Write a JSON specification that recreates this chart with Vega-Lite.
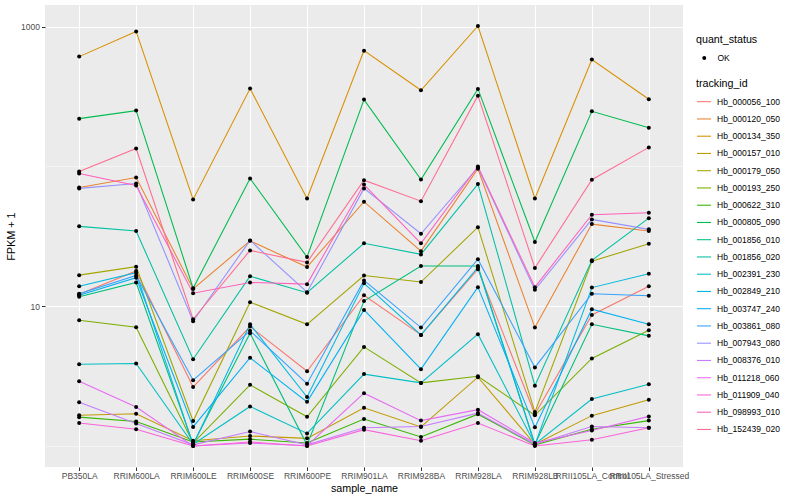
{
"$schema": "https://vega.github.io/schema/vega-lite/v6.json",
"autosize": {"type": "none"},
"width": 638, "height": 462,
"padding": {"left": 45, "top": 5, "right": 117, "bottom": 33},
"background": "white",
"config": {
 "view": {"fill": "#EBEBEB", "stroke": null},
 "font": "Liberation Sans",
 "axis": {"domain": false, "tickColor": "#333333", "labelColor": "#4D4D4D", "labelFontSize": 8.5, "titleFontSize": 10.7, "titleFontWeight": "normal", "titleColor": "black", "gridColor": "white", "tickSize": 3.5},
 "legend": {"titleFontSize": 10.7, "titleFontWeight": "normal", "titleColor": "black", "labelFontSize": 8.5, "labelColor": "black"}
},
"data": {"values": [
{"sample_name":"PB350LA","tracking_id":"Hb_000056_100","fpkm":12.2},{"sample_name":"RRIM600LA","tracking_id":"Hb_000056_100","fpkm":17.9},{"sample_name":"RRIM600LE","tracking_id":"Hb_000056_100","fpkm":2.64},{"sample_name":"RRIM600SE","tracking_id":"Hb_000056_100","fpkm":7.16},{"sample_name":"RRIM600PE","tracking_id":"Hb_000056_100","fpkm":3.43},{"sample_name":"RRIM901LA","tracking_id":"Hb_000056_100","fpkm":12.0},{"sample_name":"RRIM928BA","tracking_id":"Hb_000056_100","fpkm":6.24},{"sample_name":"RRIM928LA","tracking_id":"Hb_000056_100","fpkm":18.4},{"sample_name":"RRIM928LB","tracking_id":"Hb_000056_100","fpkm":1.69},{"sample_name":"RRII105LA_Control","tracking_id":"Hb_000056_100","fpkm":8.67},{"sample_name":"RRII105LA_Stressed","tracking_id":"Hb_000056_100","fpkm":13.9},
{"sample_name":"PB350LA","tracking_id":"Hb_000120_050","fpkm":70.8},{"sample_name":"RRIM600LA","tracking_id":"Hb_000120_050","fpkm":83.4},{"sample_name":"RRIM600LE","tracking_id":"Hb_000120_050","fpkm":13.3},{"sample_name":"RRIM600SE","tracking_id":"Hb_000120_050","fpkm":29.4},{"sample_name":"RRIM600PE","tracking_id":"Hb_000120_050","fpkm":19.1},{"sample_name":"RRIM901LA","tracking_id":"Hb_000120_050","fpkm":56.0},{"sample_name":"RRIM928BA","tracking_id":"Hb_000120_050","fpkm":24.8},{"sample_name":"RRIM928LA","tracking_id":"Hb_000120_050","fpkm":96.3},{"sample_name":"RRIM928LB","tracking_id":"Hb_000120_050","fpkm":7.04},{"sample_name":"RRII105LA_Control","tracking_id":"Hb_000120_050","fpkm":38.7},{"sample_name":"RRII105LA_Stressed","tracking_id":"Hb_000120_050","fpkm":34.5},
{"sample_name":"PB350LA","tracking_id":"Hb_000134_350","fpkm":611},{"sample_name":"RRIM600LA","tracking_id":"Hb_000134_350","fpkm":925},{"sample_name":"RRIM600LE","tracking_id":"Hb_000134_350","fpkm":58.1},{"sample_name":"RRIM600SE","tracking_id":"Hb_000134_350","fpkm":361},{"sample_name":"RRIM600PE","tracking_id":"Hb_000134_350","fpkm":59.0},{"sample_name":"RRIM901LA","tracking_id":"Hb_000134_350","fpkm":674},{"sample_name":"RRIM928BA","tracking_id":"Hb_000134_350","fpkm":351},{"sample_name":"RRIM928LA","tracking_id":"Hb_000134_350","fpkm":1012},{"sample_name":"RRIM928LB","tracking_id":"Hb_000134_350","fpkm":59.0},{"sample_name":"RRII105LA_Control","tracking_id":"Hb_000134_350","fpkm":583},{"sample_name":"RRII105LA_Stressed","tracking_id":"Hb_000134_350","fpkm":303},
{"sample_name":"PB350LA","tracking_id":"Hb_000157_010","fpkm":1.66},{"sample_name":"RRIM600LA","tracking_id":"Hb_000157_010","fpkm":1.70},{"sample_name":"RRIM600LE","tracking_id":"Hb_000157_010","fpkm":1.09},{"sample_name":"RRIM600SE","tracking_id":"Hb_000157_010","fpkm":1.18},{"sample_name":"RRIM600PE","tracking_id":"Hb_000157_010","fpkm":1.135},{"sample_name":"RRIM901LA","tracking_id":"Hb_000157_010","fpkm":1.88},{"sample_name":"RRIM928BA","tracking_id":"Hb_000157_010","fpkm":1.37},{"sample_name":"RRIM928LA","tracking_id":"Hb_000157_010","fpkm":3.11},{"sample_name":"RRIM928LB","tracking_id":"Hb_000157_010","fpkm":1.03},{"sample_name":"RRII105LA_Control","tracking_id":"Hb_000157_010","fpkm":1.65},{"sample_name":"RRII105LA_Stressed","tracking_id":"Hb_000157_010","fpkm":2.14},
{"sample_name":"PB350LA","tracking_id":"Hb_000179_050","fpkm":16.7},{"sample_name":"RRIM600LA","tracking_id":"Hb_000179_050","fpkm":19.2},{"sample_name":"RRIM600LE","tracking_id":"Hb_000179_050","fpkm":1.51},{"sample_name":"RRIM600SE","tracking_id":"Hb_000179_050","fpkm":10.7},{"sample_name":"RRIM600PE","tracking_id":"Hb_000179_050","fpkm":7.43},{"sample_name":"RRIM901LA","tracking_id":"Hb_000179_050","fpkm":16.6},{"sample_name":"RRIM928BA","tracking_id":"Hb_000179_050","fpkm":14.9},{"sample_name":"RRIM928LA","tracking_id":"Hb_000179_050","fpkm":36.8},{"sample_name":"RRIM928LB","tracking_id":"Hb_000179_050","fpkm":1.75},{"sample_name":"RRII105LA_Control","tracking_id":"Hb_000179_050","fpkm":21.0},{"sample_name":"RRII105LA_Stressed","tracking_id":"Hb_000179_050","fpkm":28.0},
{"sample_name":"PB350LA","tracking_id":"Hb_000193_250","fpkm":7.94},{"sample_name":"RRIM600LA","tracking_id":"Hb_000193_250","fpkm":7.08},{"sample_name":"RRIM600LE","tracking_id":"Hb_000193_250","fpkm":1.05},{"sample_name":"RRIM600SE","tracking_id":"Hb_000193_250","fpkm":2.74},{"sample_name":"RRIM600PE","tracking_id":"Hb_000193_250","fpkm":1.62},{"sample_name":"RRIM901LA","tracking_id":"Hb_000193_250","fpkm":5.12},{"sample_name":"RRIM928BA","tracking_id":"Hb_000193_250","fpkm":2.83},{"sample_name":"RRIM928LA","tracking_id":"Hb_000193_250","fpkm":3.16},{"sample_name":"RRIM928LB","tracking_id":"Hb_000193_250","fpkm":1.66},{"sample_name":"RRII105LA_Control","tracking_id":"Hb_000193_250","fpkm":4.23},{"sample_name":"RRII105LA_Stressed","tracking_id":"Hb_000193_250","fpkm":6.74},
{"sample_name":"PB350LA","tracking_id":"Hb_000622_310","fpkm":1.61},{"sample_name":"RRIM600LA","tracking_id":"Hb_000622_310","fpkm":1.50},{"sample_name":"RRIM600LE","tracking_id":"Hb_000622_310","fpkm":1.07},{"sample_name":"RRIM600SE","tracking_id":"Hb_000622_310","fpkm":1.12},{"sample_name":"RRIM600PE","tracking_id":"Hb_000622_310","fpkm":1.05},{"sample_name":"RRIM901LA","tracking_id":"Hb_000622_310","fpkm":1.56},{"sample_name":"RRIM928BA","tracking_id":"Hb_000622_310","fpkm":1.16},{"sample_name":"RRIM928LA","tracking_id":"Hb_000622_310","fpkm":1.69},{"sample_name":"RRIM928LB","tracking_id":"Hb_000622_310","fpkm":1.02},{"sample_name":"RRII105LA_Control","tracking_id":"Hb_000622_310","fpkm":1.32},{"sample_name":"RRII105LA_Stressed","tracking_id":"Hb_000622_310","fpkm":1.52},
{"sample_name":"PB350LA","tracking_id":"Hb_000805_090","fpkm":220},{"sample_name":"RRIM600LA","tracking_id":"Hb_000805_090","fpkm":251},{"sample_name":"RRIM600LE","tracking_id":"Hb_000805_090","fpkm":13.45},{"sample_name":"RRIM600SE","tracking_id":"Hb_000805_090","fpkm":82.0},{"sample_name":"RRIM600PE","tracking_id":"Hb_000805_090","fpkm":22.5},{"sample_name":"RRIM901LA","tracking_id":"Hb_000805_090","fpkm":301},{"sample_name":"RRIM928BA","tracking_id":"Hb_000805_090","fpkm":80.7},{"sample_name":"RRIM928LA","tracking_id":"Hb_000805_090","fpkm":359},{"sample_name":"RRIM928LB","tracking_id":"Hb_000805_090","fpkm":28.8},{"sample_name":"RRII105LA_Control","tracking_id":"Hb_000805_090","fpkm":248},{"sample_name":"RRII105LA_Stressed","tracking_id":"Hb_000805_090","fpkm":189},
{"sample_name":"PB350LA","tracking_id":"Hb_001856_010","fpkm":11.7},{"sample_name":"RRIM600LA","tracking_id":"Hb_001856_010","fpkm":14.8},{"sample_name":"RRIM600LE","tracking_id":"Hb_001856_010","fpkm":1.03},{"sample_name":"RRIM600SE","tracking_id":"Hb_001856_010","fpkm":6.41},{"sample_name":"RRIM600PE","tracking_id":"Hb_001856_010","fpkm":1.02},{"sample_name":"RRIM901LA","tracking_id":"Hb_001856_010","fpkm":10.9},{"sample_name":"RRIM928BA","tracking_id":"Hb_001856_010","fpkm":19.4},{"sample_name":"RRIM928LA","tracking_id":"Hb_001856_010","fpkm":19.4},{"sample_name":"RRIM928LB","tracking_id":"Hb_001856_010","fpkm":1.03},{"sample_name":"RRII105LA_Control","tracking_id":"Hb_001856_010","fpkm":7.43},{"sample_name":"RRII105LA_Stressed","tracking_id":"Hb_001856_010","fpkm":6.14},
{"sample_name":"PB350LA","tracking_id":"Hb_001856_020","fpkm":37.3},{"sample_name":"RRIM600LA","tracking_id":"Hb_001856_020","fpkm":34.5},{"sample_name":"RRIM600LE","tracking_id":"Hb_001856_020","fpkm":4.18},{"sample_name":"RRIM600SE","tracking_id":"Hb_001856_020","fpkm":16.4},{"sample_name":"RRIM600PE","tracking_id":"Hb_001856_020","fpkm":12.5},{"sample_name":"RRIM901LA","tracking_id":"Hb_001856_020","fpkm":28.2},{"sample_name":"RRIM928BA","tracking_id":"Hb_001856_020","fpkm":23.5},{"sample_name":"RRIM928LA","tracking_id":"Hb_001856_020","fpkm":74.8},{"sample_name":"RRIM928LB","tracking_id":"Hb_001856_020","fpkm":2.70},{"sample_name":"RRII105LA_Control","tracking_id":"Hb_001856_020","fpkm":21.3},{"sample_name":"RRII105LA_Stressed","tracking_id":"Hb_001856_020","fpkm":42.7},
{"sample_name":"PB350LA","tracking_id":"Hb_002391_230","fpkm":3.85},{"sample_name":"RRIM600LA","tracking_id":"Hb_002391_230","fpkm":3.90},{"sample_name":"RRIM600LE","tracking_id":"Hb_002391_230","fpkm":1.03},{"sample_name":"RRIM600SE","tracking_id":"Hb_002391_230","fpkm":1.92},{"sample_name":"RRIM600PE","tracking_id":"Hb_002391_230","fpkm":1.23},{"sample_name":"RRIM901LA","tracking_id":"Hb_002391_230","fpkm":3.27},{"sample_name":"RRIM928BA","tracking_id":"Hb_002391_230","fpkm":2.83},{"sample_name":"RRIM928LA","tracking_id":"Hb_002391_230","fpkm":6.31},{"sample_name":"RRIM928LB","tracking_id":"Hb_002391_230","fpkm":1.03},{"sample_name":"RRII105LA_Control","tracking_id":"Hb_002391_230","fpkm":2.17},{"sample_name":"RRII105LA_Stressed","tracking_id":"Hb_002391_230","fpkm":2.77},
{"sample_name":"PB350LA","tracking_id":"Hb_002849_210","fpkm":13.9},{"sample_name":"RRIM600LA","tracking_id":"Hb_002849_210","fpkm":17.4},{"sample_name":"RRIM600LE","tracking_id":"Hb_002849_210","fpkm":1.02},{"sample_name":"RRIM600SE","tracking_id":"Hb_002849_210","fpkm":7.43},{"sample_name":"RRIM600PE","tracking_id":"Hb_002849_210","fpkm":2.24},{"sample_name":"RRIM901LA","tracking_id":"Hb_002849_210","fpkm":14.6},{"sample_name":"RRIM928BA","tracking_id":"Hb_002849_210","fpkm":6.24},{"sample_name":"RRIM928LA","tracking_id":"Hb_002849_210","fpkm":19.0},{"sample_name":"RRIM928LB","tracking_id":"Hb_002849_210","fpkm":1.02},{"sample_name":"RRII105LA_Control","tracking_id":"Hb_002849_210","fpkm":13.6},{"sample_name":"RRII105LA_Stressed","tracking_id":"Hb_002849_210","fpkm":17.1},
{"sample_name":"PB350LA","tracking_id":"Hb_003747_240","fpkm":11.98},{"sample_name":"RRIM600LA","tracking_id":"Hb_003747_240","fpkm":16.0},{"sample_name":"RRIM600LE","tracking_id":"Hb_003747_240","fpkm":1.37},{"sample_name":"RRIM600SE","tracking_id":"Hb_003747_240","fpkm":4.28},{"sample_name":"RRIM600PE","tracking_id":"Hb_003747_240","fpkm":2.07},{"sample_name":"RRIM901LA","tracking_id":"Hb_003747_240","fpkm":9.41},{"sample_name":"RRIM928BA","tracking_id":"Hb_003747_240","fpkm":3.55},{"sample_name":"RRIM928LA","tracking_id":"Hb_003747_240","fpkm":13.7},{"sample_name":"RRIM928LB","tracking_id":"Hb_003747_240","fpkm":1.36},{"sample_name":"RRII105LA_Control","tracking_id":"Hb_003747_240","fpkm":9.52},{"sample_name":"RRII105LA_Stressed","tracking_id":"Hb_003747_240","fpkm":7.43},
{"sample_name":"PB350LA","tracking_id":"Hb_003861_080","fpkm":12.3},{"sample_name":"RRIM600LA","tracking_id":"Hb_003861_080","fpkm":16.6},{"sample_name":"RRIM600LE","tracking_id":"Hb_003861_080","fpkm":2.96},{"sample_name":"RRIM600SE","tracking_id":"Hb_003861_080","fpkm":6.67},{"sample_name":"RRIM600PE","tracking_id":"Hb_003861_080","fpkm":2.79},{"sample_name":"RRIM901LA","tracking_id":"Hb_003861_080","fpkm":15.3},{"sample_name":"RRIM928BA","tracking_id":"Hb_003861_080","fpkm":7.04},{"sample_name":"RRIM928LA","tracking_id":"Hb_003861_080","fpkm":21.7},{"sample_name":"RRIM928LB","tracking_id":"Hb_003861_080","fpkm":3.65},{"sample_name":"RRII105LA_Control","tracking_id":"Hb_003861_080","fpkm":12.3},{"sample_name":"RRII105LA_Stressed","tracking_id":"Hb_003861_080","fpkm":11.9},
{"sample_name":"PB350LA","tracking_id":"Hb_007943_080","fpkm":69.7},{"sample_name":"RRIM600LA","tracking_id":"Hb_007943_080","fpkm":75.6},{"sample_name":"RRIM600LE","tracking_id":"Hb_007943_080","fpkm":7.82},{"sample_name":"RRIM600SE","tracking_id":"Hb_007943_080","fpkm":29.6},{"sample_name":"RRIM600PE","tracking_id":"Hb_007943_080","fpkm":12.6},{"sample_name":"RRIM901LA","tracking_id":"Hb_007943_080","fpkm":69.7},{"sample_name":"RRIM928BA","tracking_id":"Hb_007943_080","fpkm":33.0},{"sample_name":"RRIM928LA","tracking_id":"Hb_007943_080","fpkm":98.4},{"sample_name":"RRIM928LB","tracking_id":"Hb_007943_080","fpkm":13.1},{"sample_name":"RRII105LA_Control","tracking_id":"Hb_007943_080","fpkm":41.8},{"sample_name":"RRII105LA_Stressed","tracking_id":"Hb_007943_080","fpkm":35.5},
{"sample_name":"PB350LA","tracking_id":"Hb_008376_010","fpkm":2.06},{"sample_name":"RRIM600LA","tracking_id":"Hb_008376_010","fpkm":1.45},{"sample_name":"RRIM600LE","tracking_id":"Hb_008376_010","fpkm":1.02},{"sample_name":"RRIM600SE","tracking_id":"Hb_008376_010","fpkm":1.27},{"sample_name":"RRIM600PE","tracking_id":"Hb_008376_010","fpkm":1.02},{"sample_name":"RRIM901LA","tracking_id":"Hb_008376_010","fpkm":1.35},{"sample_name":"RRIM928BA","tracking_id":"Hb_008376_010","fpkm":1.38},{"sample_name":"RRIM928LA","tracking_id":"Hb_008376_010","fpkm":1.72},{"sample_name":"RRIM928LB","tracking_id":"Hb_008376_010","fpkm":1.03},{"sample_name":"RRII105LA_Control","tracking_id":"Hb_008376_010","fpkm":1.38},{"sample_name":"RRII105LA_Stressed","tracking_id":"Hb_008376_010","fpkm":1.35},
{"sample_name":"PB350LA","tracking_id":"Hb_011218_060","fpkm":2.91},{"sample_name":"RRIM600LA","tracking_id":"Hb_011218_060","fpkm":1.90},{"sample_name":"RRIM600LE","tracking_id":"Hb_011218_060","fpkm":1.0},{"sample_name":"RRIM600SE","tracking_id":"Hb_011218_060","fpkm":1.05},{"sample_name":"RRIM600PE","tracking_id":"Hb_011218_060","fpkm":1.005},{"sample_name":"RRIM901LA","tracking_id":"Hb_011218_060","fpkm":2.39},{"sample_name":"RRIM928BA","tracking_id":"Hb_011218_060","fpkm":1.52},{"sample_name":"RRIM928LA","tracking_id":"Hb_011218_060","fpkm":1.82},{"sample_name":"RRIM928LB","tracking_id":"Hb_011218_060","fpkm":1.05},{"sample_name":"RRII105LA_Control","tracking_id":"Hb_011218_060","fpkm":1.29},{"sample_name":"RRII105LA_Stressed","tracking_id":"Hb_011218_060","fpkm":1.63},
{"sample_name":"PB350LA","tracking_id":"Hb_011909_040","fpkm":1.46},{"sample_name":"RRIM600LA","tracking_id":"Hb_011909_040","fpkm":1.32},{"sample_name":"RRIM600LE","tracking_id":"Hb_011909_040","fpkm":1.0},{"sample_name":"RRIM600SE","tracking_id":"Hb_011909_040","fpkm":1.07},{"sample_name":"RRIM600PE","tracking_id":"Hb_011909_040","fpkm":1.0},{"sample_name":"RRIM901LA","tracking_id":"Hb_011909_040","fpkm":1.31},{"sample_name":"RRIM928BA","tracking_id":"Hb_011909_040","fpkm":1.09},{"sample_name":"RRIM928LA","tracking_id":"Hb_011909_040","fpkm":1.46},{"sample_name":"RRIM928LB","tracking_id":"Hb_011909_040","fpkm":1.0},{"sample_name":"RRII105LA_Control","tracking_id":"Hb_011909_040","fpkm":1.11},{"sample_name":"RRII105LA_Stressed","tracking_id":"Hb_011909_040","fpkm":1.35},
{"sample_name":"PB350LA","tracking_id":"Hb_098993_010","fpkm":89.1},{"sample_name":"RRIM600LA","tracking_id":"Hb_098993_010","fpkm":73.1},{"sample_name":"RRIM600LE","tracking_id":"Hb_098993_010","fpkm":12.4},{"sample_name":"RRIM600SE","tracking_id":"Hb_098993_010","fpkm":14.8},{"sample_name":"RRIM600PE","tracking_id":"Hb_098993_010","fpkm":14.4},{"sample_name":"RRIM901LA","tracking_id":"Hb_098993_010","fpkm":74.3},{"sample_name":"RRIM928BA","tracking_id":"Hb_098993_010","fpkm":28.2},{"sample_name":"RRIM928LA","tracking_id":"Hb_098993_010","fpkm":100},{"sample_name":"RRIM928LB","tracking_id":"Hb_098993_010","fpkm":13.7},{"sample_name":"RRII105LA_Control","tracking_id":"Hb_098993_010","fpkm":45.2},{"sample_name":"RRII105LA_Stressed","tracking_id":"Hb_098993_010","fpkm":46.7},
{"sample_name":"PB350LA","tracking_id":"Hb_152439_020","fpkm":92.0},{"sample_name":"RRIM600LA","tracking_id":"Hb_152439_020","fpkm":134.5},{"sample_name":"RRIM600LE","tracking_id":"Hb_152439_020","fpkm":8.07},{"sample_name":"RRIM600SE","tracking_id":"Hb_152439_020","fpkm":25.1},{"sample_name":"RRIM600PE","tracking_id":"Hb_152439_020","fpkm":20.6},{"sample_name":"RRIM901LA","tracking_id":"Hb_152439_020","fpkm":79.8},{"sample_name":"RRIM928BA","tracking_id":"Hb_152439_020","fpkm":56.5},{"sample_name":"RRIM928LA","tracking_id":"Hb_152439_020","fpkm":321},{"sample_name":"RRIM928LB","tracking_id":"Hb_152439_020","fpkm":18.8},{"sample_name":"RRII105LA_Control","tracking_id":"Hb_152439_020","fpkm":80.4},{"sample_name":"RRII105LA_Stressed","tracking_id":"Hb_152439_020","fpkm":137}
]},
"encoding": {
 "x": {"field": "sample_name", "type": "nominal",
   "sort": ["PB350LA","RRIM600LA","RRIM600LE","RRIM600SE","RRIM600PE","RRIM901LA","RRIM928BA","RRIM928LA","RRIM928LB","RRII105LA_Control","RRII105LA_Stressed"],
   "scale": {"type": "point", "padding": 0.6},
   "axis": {"title": "sample_name", "labelAngle": 0, "grid": true, "gridWidth": 1.07, "labelPadding": 0.5, "titlePadding": 4, "labelOverlap": false, "labelBound": false}},
 "y": {"field": "fpkm", "type": "quantitative",
   "scale": {"type": "log", "domain": [0.708, 1430], "nice": false},
   "axis": {"title": "FPKM + 1", "values": [1, 10, 100, 1000], "labelPadding": 2, "titlePadding": 4,
     "labelExpr": "datum.value == 10 ? '10' : datum.value == 1000 ? '1000' : ''",
     "tickOpacity": {"condition": {"test": "datum.value == 10 || datum.value == 1000", "value": 1}, "value": 0},
     "gridWidth": {"condition": {"test": "datum.value == 10 || datum.value == 1000", "value": 1.07}, "value": 0.53}}}
},
"layer": [
 {"mark": {"type": "line", "strokeWidth": 1.07},
  "encoding": {"color": {"field": "tracking_id", "type": "nominal", "title": "tracking_id",
    "scale": {"domain": ["Hb_000056_100","Hb_000120_050","Hb_000134_350","Hb_000157_010","Hb_000179_050","Hb_000193_250","Hb_000622_310","Hb_000805_090","Hb_001856_010","Hb_001856_020","Hb_002391_230","Hb_002849_210","Hb_003747_240","Hb_003861_080","Hb_007943_080","Hb_008376_010","Hb_011218_060","Hb_011909_040","Hb_098993_010","Hb_152439_020"],
      "range": ["#F8766D","#EA8331","#D89000","#C09B00","#A3A500","#7CAE00","#39B600","#00BB4E","#00BF7D","#00C1A3","#00BFC4","#00BAE0","#00B0F6","#35A2FF","#9590FF","#C77CFF","#E76BF3","#FA62DB","#FF62BC","#FF6C91"]},
    "legend": {"orient": "none", "legendX": 651, "legendY": 74, "symbolType": "stroke", "symbolSize": 200, "symbolStrokeWidth": 1.07, "rowPadding": 4.25, "titlePadding": 4, "labelOffset": 5}}}},
 {"mark": {"type": "point", "filled": true, "size": 16, "color": "black", "opacity": 1},
  "encoding": {"shape": {"datum": "OK", "type": "nominal", "title": "quant_status",
    "scale": {"range": ["circle"]},
    "legend": {"orient": "none", "legendX": 651, "legendY": 30, "symbolFillColor": "black", "symbolStrokeColor": "black", "symbolSize": 16, "titlePadding": 8, "labelOffset": 9, "symbolOffset": 4}}}}
]
}
